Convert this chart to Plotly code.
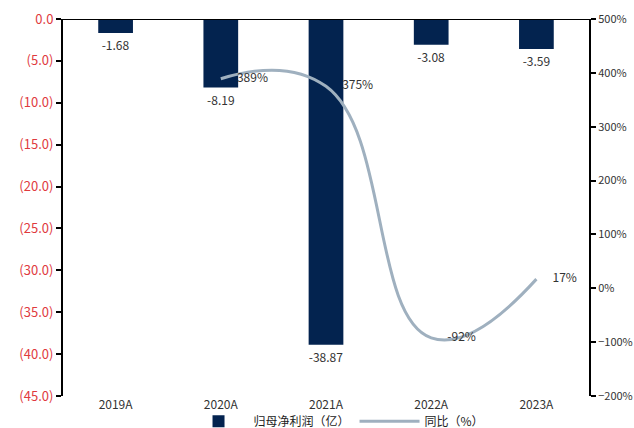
import plotly.graph_objects as go

categories = ["2019A", "2020A", "2021A", "2022A", "2023A"]
net_profit = [-1.68, -8.19, -38.87, -3.08, -3.59]
yoy_cats = ["2020A", "2021A", "2022A", "2023A"]
yoy_pct = [389, 375, -92, 17]
left_ticks = [0, -5, -10, -15, -20, -25, -30, -35, -40, -45]
left_ticktext = ["0.0", "(5.0)", "(10.0)", "(15.0)", "(20.0)", "(25.0)", "(30.0)", "(35.0)", "(40.0)", "(45.0)"]

font_family = "Noto Sans CJK SC, Liberation Sans, sans-serif"

fig = go.Figure()
fig.add_trace(go.Bar(
    x=categories, y=net_profit, name="归母净利润（亿）",
    marker=dict(color="#03234f", line=dict(width=0)),
    width=0.33,
    text=[f"{v:.2f}" for v in net_profit], textposition="outside",
    textfont=dict(size=12, color="#333333", family=font_family),
    cliponaxis=False,
))
fig.add_trace(go.Scatter(
    x=yoy_cats, y=yoy_pct, name="同比（%）", yaxis="y2",
    mode="lines+text", line=dict(color="#9fb0bf", width=3, shape="spline", smoothing=1.3),
    text=[f"{v}%" for v in yoy_pct],
    texttemplate="      %{text}",
    textposition="middle right",
    textfont=dict(size=12, color="#333333", family=font_family),
    cliponaxis=False,
))

fig.update_layout(
    width=634, height=428,
    margin=dict(l=63, r=45, t=19, b=32, autoexpand=False),
    paper_bgcolor="white", plot_bgcolor="white",
    font=dict(family=font_family, size=12, color="#333333"),
    bargap=0.67,
    showlegend=True,
    legend=dict(orientation="h", x=0.52, xanchor="center", yref="container", y=0.016, yanchor="middle",
                font=dict(size=12, color="#222222"), itemwidth=60, bgcolor="rgba(0,0,0,0)"),
    xaxis=dict(categoryorder="array", categoryarray=categories, showline=False, ticks="",
               showgrid=False, tickfont=dict(size=12, color="#333333")),
    yaxis=dict(range=[-45, 0], tickvals=left_ticks, ticktext=left_ticktext,
               showline=True, linecolor="black", linewidth=2, ticks="outside", ticklen=5,
               tickcolor="black", tickwidth=2, showgrid=False, zeroline=False,
               tickfont=dict(size=13, color="#e03a3e")),
    yaxis2=dict(range=[-200, 500], dtick=100, ticksuffix="%", overlaying="y", side="right",
                showline=True, linecolor="black", linewidth=2, ticks="outside", ticklen=5,
                tickcolor="black", tickwidth=2, showgrid=False, zeroline=False,
                tickfont=dict(size=11, color="#333333")),
    shapes=[dict(type="line", xref="paper", yref="y", x0=0, x1=1, y0=0, y1=0,
                 line=dict(color="black", width=2))],
)

fig.write_html("out.html")
